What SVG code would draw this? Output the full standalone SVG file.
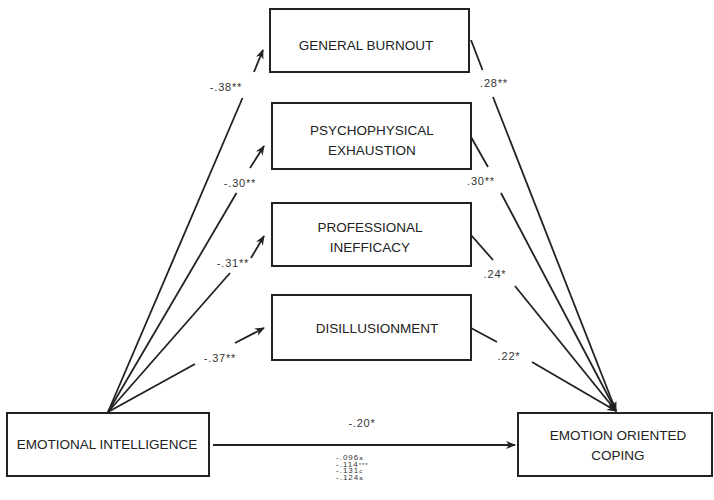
<svg xmlns="http://www.w3.org/2000/svg" width="714" height="500" viewBox="0 0 714 500">
<defs>
<style>
.box{fill:#fff;stroke:#222;stroke-width:2}
.t{font-family:"Liberation Sans",Arial,sans-serif;font-size:13.5px;fill:#222;text-anchor:middle}
.lb{font-family:"Liberation Sans",Arial,sans-serif;font-size:11px;fill:#333;letter-spacing:0.8px;text-anchor:middle}
.sm{font-family:"Liberation Sans",Arial,sans-serif;font-size:8px;fill:#333;letter-spacing:1px;text-anchor:start}
.ln{stroke:#222;stroke-width:1.8;fill:none}
</style>
<marker id="ah" markerWidth="10" markerHeight="10" refX="9" refY="5" orient="auto" markerUnits="userSpaceOnUse">
<path d="M0,1 L10,5 L0,9 L3,5 Z" fill="#222"/>
</marker>
</defs>
<rect width="714" height="500" fill="#fff"/>
<g id="connectors">
<line class="ln" x1="108" y1="412" x2="242.5" y2="98"/>
<line class="ln" x1="254" y1="72" x2="263" y2="50" marker-end="url(#ah)"/>
<line class="ln" x1="108" y1="412" x2="236.5" y2="193"/>
<line class="ln" x1="250" y1="168" x2="264" y2="146" marker-end="url(#ah)"/>
<line class="ln" x1="108" y1="412" x2="230" y2="273"/>
<line class="ln" x1="251" y1="258" x2="264" y2="236" marker-end="url(#ah)"/>
<line class="ln" x1="108" y1="412" x2="195" y2="364"/>
<line class="ln" x1="235" y1="343" x2="264" y2="328" marker-end="url(#ah)"/>
<line class="ln" x1="471" y1="40" x2="482.5" y2="70"/>
<line class="ln" x1="493" y1="97" x2="616" y2="411" marker-end="url(#ah)"/>
<line class="ln" x1="471" y1="137" x2="488" y2="167"/>
<line class="ln" x1="501" y1="193" x2="616" y2="411" marker-end="url(#ah)"/>
<line class="ln" x1="471" y1="235" x2="493" y2="260"/>
<line class="ln" x1="515" y1="286" x2="616" y2="411" marker-end="url(#ah)"/>
<line class="ln" x1="471" y1="328" x2="497" y2="342"/>
<line class="ln" x1="532" y1="362" x2="616" y2="411" marker-end="url(#ah)"/>
<line class="ln" x1="213" y1="445" x2="515" y2="445" marker-end="url(#ah)"/>
</g>
<g id="labels">
<text class="lb" x="226" y="91">-.38**</text>
<text class="lb" x="240" y="187">-.30**</text>
<text class="lb" x="233" y="267">-.31**</text>
<text class="lb" x="220" y="362">-.37**</text>
<text class="lb" x="494" y="87">.28**</text>
<text class="lb" x="481" y="185">.30**</text>
<text class="lb" x="495" y="278">.24*</text>
<text class="lb" x="509" y="360">.22*</text>
<text class="lb" x="362" y="427">-.20*</text>
<text class="sm" x="336" y="460">-.096<tspan font-size="6">a</tspan></text>
<text class="sm" x="336" y="466.7">-.114<tspan font-size="6">***</tspan></text>
<text class="sm" x="336" y="473.4">-.131<tspan font-size="6">c</tspan></text>
<text class="sm" x="336" y="480">-.124<tspan font-size="6">a</tspan></text>
</g>
<g id="general-burnout">
<rect class="box" x="270" y="9" width="199" height="63"/>
<text class="t" x="366" y="50">GENERAL BURNOUT</text>
</g>
<g id="psychophysical-exhaustion">
<rect class="box" x="272" y="103" width="199" height="66"/>
<text class="t" x="372" y="135">PSYCHOPHYSICAL</text>
<text class="t" x="372" y="155">EXHAUSTION</text>
</g>
<g id="professional-inefficacy">
<rect class="box" x="272" y="203" width="199" height="63"/>
<text class="t" x="370" y="232">PROFESSIONAL</text>
<text class="t" x="370" y="252">INEFFICACY</text>
</g>
<g id="disillusionment">
<rect class="box" x="272" y="295" width="199" height="65"/>
<text class="t" x="377" y="333">DISILLUSIONMENT</text>
</g>
<g id="emotional-intelligence">
<rect class="box" x="7" y="413" width="202" height="63"/>
<text class="t" x="107" y="449">EMOTIONAL INTELLIGENCE</text>
</g>
<g id="emotion-oriented-coping">
<rect class="box" x="518" y="413" width="194" height="63"/>
<text class="t" x="618" y="440">EMOTION ORIENTED</text>
<text class="t" x="618" y="460">COPING</text>
</g>
</svg>
